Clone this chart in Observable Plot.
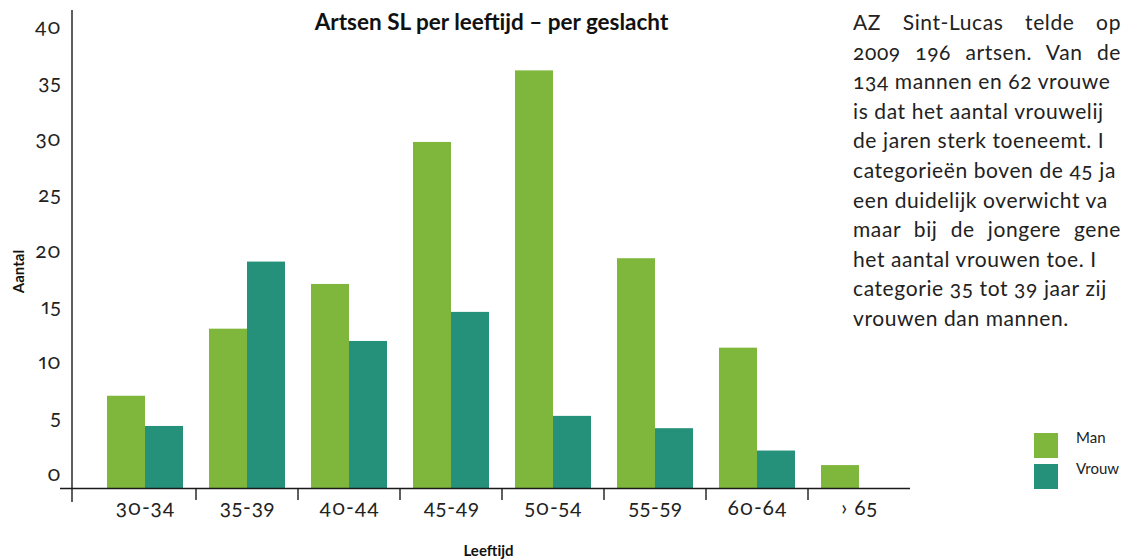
<!DOCTYPE html>
<html>
<head>
<meta charset="utf-8">
<script src="https://cdn.jsdelivr.net/npm/d3@7"></script>
<script src="https://cdn.jsdelivr.net/npm/@observablehq/plot@0.6"></script>
<style>
  html, body { margin: 0; padding: 0; background: #fff; overflow: hidden; }
  #wrap { position: relative; width: 1125px; height: 560px; overflow: hidden; font-family: Lato, "Open Sans", sans-serif; color: #222; }
  #wrap svg text { font-variant-numeric: oldstyle-nums proportional-nums !important; font-feature-settings: "onum" 1, "pnum" 1 !important; }
  #wrap svg g[aria-label="x-axis tick label"] text, #wrap svg g[aria-label="y-axis tick label"] text { letter-spacing: 0.8px; }
  #note { position: absolute; left: 853px; top: 7px; width: 268px; font-size: 21px; letter-spacing: 0.6px; line-height: 29.6px; font-feature-settings: "onum" 1; font-variant-numeric: oldstyle-nums; }
  #note .ln { white-space: nowrap; text-align: left; }
  #note .ln.just { text-align: justify; text-align-last: justify; }
  #legend { position: absolute; left: 1034px; top: 433px; font-size: 15px; }
  #legend .row { display: flex; align-items: flex-start; height: 31px; }
  #legend .sw { width: 24px; height: 25px; margin-right: 18px; }
  #legend .lab { line-height: 18px; margin-top: -5px; }
</style>
</head>
<body>
<div id="wrap"></div>
<script>
// ---- data ----
const ages = ["30-34", "35-39", "40-44", "45-49", "50-54", "55-59", "60-64", "› 65"];
const sexes = ["Man", "Vrouw"];
const men = [7.0, 13.0, 17.0, 29.7, 36.1, 19.3, 11.3, 0.8];
const women = [4.3, 19.0, 11.9, 14.5, 5.2, 4.1, 2.1, 0];
const yTicks = [0, 5, 10, 15, 20, 25, 30, 35, 40];
const colors = ["#7fb63c", "#26917a"];
const title = "Artsen SL per leeftijd – per geslacht";
const yLabel = "Aantal";
const xLabel = "Leeftijd";
const noteLines = [
  "AZ Sint-Lucas telde op",
  "2009 196 artsen. Van de",
  "134 mannen en 62 vrouwe",
  "is dat het aantal vrouwelij",
  "de jaren sterk toeneemt. I",
  "categorieën boven de 45 ja",
  "een duidelijk overwicht va",
  "maar bij de jongere gene",
  "het aantal vrouwen toe. I",
  "categorie 35 tot 39 jaar zij",
  "vrouwen dan mannen."
];
const justifiedLines = [0, 1, 7];

const yFloor = -1.25, yTop = 41.5;

const menData = ages.map((age, i) => ({age, sex: "Man", value: men[i]}));
const womenData = ages.map((age, i) => ({age, sex: "Vrouw", value: women[i]}));

function axisLines(index, scales, values, dims) {
  const {x, y} = scales;
  const bw = typeof x.bandwidth === "function" ? x.bandwidth() : x.bandwidth;
  const step = x(ages[1]) - x(ages[0]);
  const y0 = y(yFloor);
  const g = d3.create("svg:g").attr("stroke", "#1a1a1a").attr("stroke-width", 1.4);
  g.append("line")
    .attr("x1", dims.marginLeft).attr("x2", dims.marginLeft)
    .attr("y1", dims.marginTop).attr("y2", y0 + 14);
  ages.slice(1).forEach(a => {
    const bx = x(a) + bw / 2 - step / 2;
    g.append("line").attr("x1", bx).attr("x2", bx).attr("y1", y0).attr("y2", y0 + 12);
  });
  return g.node();
}

const plot = Plot.plot({
  width: 1125,
  height: 560,
  marginLeft: 72,
  marginRight: 215,
  marginTop: 10,
  marginBottom: 72,
  style: {fontFamily: "Lato, 'Open Sans', sans-serif", fontSize: "20px", color: "#222", background: "transparent"},
  x: {domain: ages, range: [94, 910], paddingInner: 0.627, paddingOuter: 0.3135},
  y: {domain: [yFloor, yTop]},
  color: {domain: sexes, range: colors},
  marks: [
    Plot.barY(menData, {x: "age", y1: yFloor, y2: "value", fill: "sex", dx: -19}),
    Plot.barY(womenData.filter(d => d.value > 0), {x: "age", y1: yFloor, y2: "value", fill: "sex", dx: 19}),
    Plot.axisX({tickSize: 0, tickPadding: 12, fontSize: 21, label: null, fill: "#222"}),
    Plot.axisY(yTicks, {tickSize: 0, tickPadding: 11, fontSize: 21, label: null, fill: "#222"}),
    Plot.ruleY([yFloor], {stroke: "#1a1a1a", strokeWidth: 1.4, insetLeft: -12}),
    axisLines,
    Plot.text([title], {text: d => d, frameAnchor: "top", dy: 12, fontWeight: "bold", fontSize: 22.5, textAnchor: "middle", lineAnchor: "middle", fill: "#111"}),
    Plot.text([yLabel], {text: d => d, frameAnchor: "left", rotate: -90, dx: -53, dy: 22, fontWeight: "bold", fontSize: 15, textAnchor: "middle", lineAnchor: "middle", fill: "#111"}),
    Plot.text([xLabel], {text: d => d, frameAnchor: "bottom", dx: -3, dy: 63, fontWeight: "bold", fontSize: 15, textAnchor: "middle", lineAnchor: "middle", fill: "#111"})
  ]
});

const wrap = document.getElementById("wrap");
wrap.appendChild(plot);

const note = document.createElement("div");
note.id = "note";
noteLines.forEach((t, i) => {
  const ln = document.createElement("div");
  ln.className = justifiedLines.includes(i) ? "ln just" : "ln";
  ln.textContent = t;
  note.appendChild(ln);
});
wrap.appendChild(note);

const legend = document.createElement("div");
legend.id = "legend";
sexes.forEach((s, i) => {
  const row = document.createElement("div");
  row.className = "row";
  const sw = document.createElement("div");
  sw.className = "sw";
  sw.style.background = colors[i];
  const lab = document.createElement("div");
  lab.className = "lab";
  lab.textContent = s;
  row.appendChild(sw);
  row.appendChild(lab);
  legend.appendChild(row);
});
wrap.appendChild(legend);
</script>
</body>
</html>
